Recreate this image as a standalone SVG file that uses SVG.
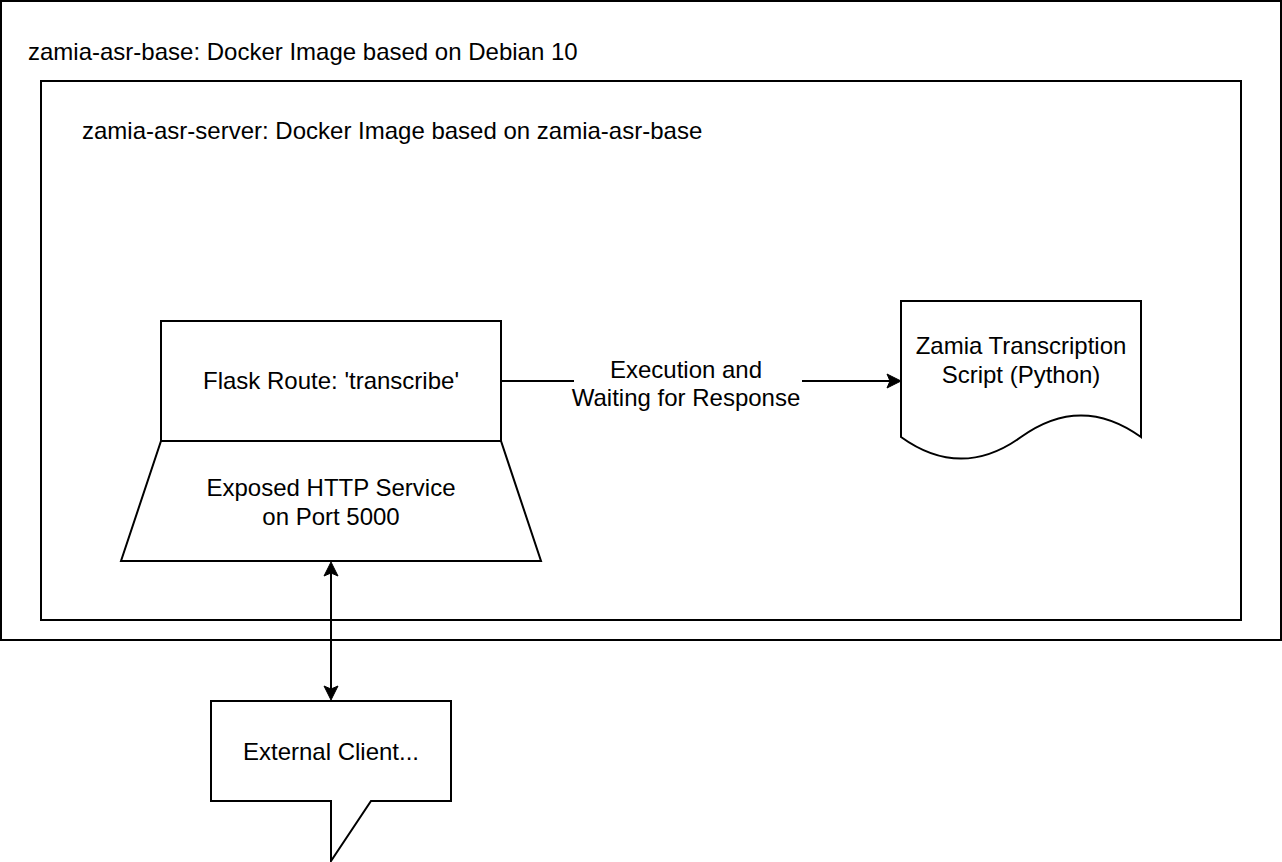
<svg xmlns="http://www.w3.org/2000/svg" width="1282" height="862" viewBox="0 0 1282 862">
<style>
.box{fill:#fff;stroke:#000;stroke-width:2}
.t{font-family:"Liberation Sans",Arial,Helvetica,sans-serif;font-size:24px;fill:#000}
.c{text-anchor:middle}
.ln{fill:none;stroke:#000;stroke-width:2}
.ah{fill:#000;stroke:#000;stroke-width:1}
</style>
<rect width="1282" height="862" fill="#fff"/>
<g id="base">
<rect class="box" x="1" y="1" width="1280" height="639"/>
<text class="t" x="28" y="60">zamia-asr-base: Docker Image based on Debian 10</text>
</g>
<g id="server">
<rect class="box" x="41" y="81" width="1200" height="539"/>
<text class="t" x="82" y="139">zamia-asr-server: Docker Image based on zamia-asr-base</text>
</g>
<g id="flask">
<rect class="box" x="161" y="321" width="340" height="120"/>
<text class="t c" x="331" y="389">Flask Route: 'transcribe'</text>
</g>
<g id="http">
<path class="box" d="M161,441 L501,441 L541,561 L121,561 Z"/>
<text class="t c" x="331" y="496">Exposed HTTP Service</text>
<text class="t c" x="331" y="525">on Port 5000</text>
</g>
<g id="script">
<path class="box" d="M901,301 L1141,301 L1141,437 Q1081,393.8 1021,437 Q961,480.2 901,437 Z"/>
<text class="t c" x="1021" y="354">Zamia Transcription</text>
<text class="t c" x="1021" y="383">Script (Python)</text>
</g>
<g id="client">
<path class="box" d="M211,701 L451,701 L451,801 L371,801 L331,861 L331,801 L211,801 Z"/>
<text class="t c" x="331" y="760">External Client...</text>
</g>
<g id="connectors">
<path class="ln" d="M501,381 L891,381"/>
<path class="ah" d="M901,381 L887,388 L890,381 L887,374 Z"/>
<rect x="574" y="354" width="228" height="56" fill="#fff"/>
<text class="t c" x="686" y="378">Execution and</text>
<text class="t c" x="686" y="406">Waiting for Response</text>
<path class="ln" d="M331,571 L331,691"/>
<path class="ah" d="M331,562 L338,576 L331,573 L324,576 Z"/>
<path class="ah" d="M331,700 L324,686 L331,689 L338,686 Z"/>
</g>
</svg>
